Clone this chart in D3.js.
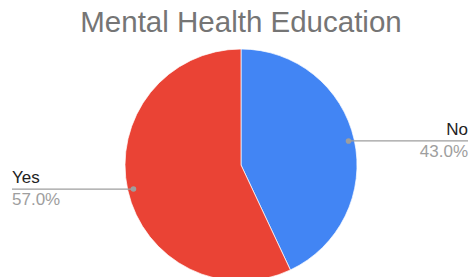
<!DOCTYPE html>
<html><head><meta charset="utf-8">
<script src="https://cdn.jsdelivr.net/npm/d3@7"></script>
<style>body{margin:0;background:#fff}svg{display:block}</style>
</head><body><svg id="c" width="471" height="277"></svg>
<script>
const title = "Mental Health Education";
const categories = ["No", "Yes"];
const values = [43, 57];
const colors = ["#4285f4", "#ea4335"];

const svg = d3.select("#c");
const W = 471, H = 277;
const cx = 241, cy = 165, R = 116;
const font = "'Liberation Sans', Arial, sans-serif";

svg.append("text").attr("x", cx).attr("y", 32).attr("text-anchor", "middle")
  .attr("font-family", font).attr("font-size", 29.5).attr("fill", "#757575").text(title);

const pie = d3.pie().sort(null).value(d => d)(values);
const arc = d3.arc().innerRadius(0).outerRadius(R);
const g = svg.append("g").attr("transform", `translate(${cx},${cy})`);
g.selectAll("path").data(pie).join("path")
  .attr("d", arc).attr("fill", (d, i) => colors[i])
  .attr("stroke", "#fff").attr("stroke-width", 0.7);

const total = d3.sum(values);
const dotR = 0.95 * R;
pie.forEach((d, i) => {
  const a = (d.startAngle + d.endAngle) / 2;
  const px = cx + dotR * Math.sin(a), py = cy - dotR * Math.cos(a);
  const right = Math.sin(a) > 0;
  const ex = right ? 468 : 12;
  svg.append("line").attr("x1", px).attr("y1", py).attr("x2", ex).attr("y2", py)
    .attr("stroke", "#9e9e9e").attr("stroke-width", 1.3);
  svg.append("circle").attr("cx", px).attr("cy", py).attr("r", 2.8).attr("fill", "#9e9e9e");
  const anchor = right ? "end" : "start";
  svg.append("text").attr("x", ex).attr("y", py - 6).attr("text-anchor", anchor)
    .attr("font-family", font).attr("font-size", 17).attr("fill", "#222").text(categories[i]);
  svg.append("text").attr("x", ex).attr("y", py + 16).attr("text-anchor", anchor)
    .attr("font-family", font).attr("font-size", 17).attr("fill", "#9e9e9e")
    .text((values[i] / total * 100).toFixed(1) + "%");
});
</script></body></html>
